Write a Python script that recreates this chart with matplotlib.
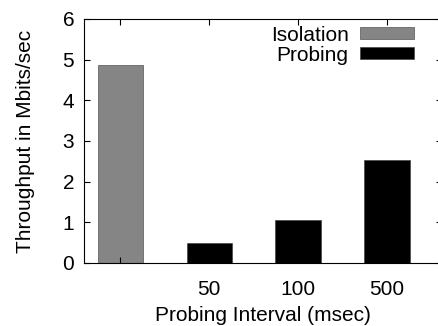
import matplotlib
matplotlib.use('Agg')
import matplotlib.pyplot as plt

plt.rcParams['font.family'] = ['Liberation Sans', 'DejaVu Sans']

labels = ['', '50', '100', '500']
isolation = [4.86]
probing = [0.48, 1.06, 2.53]

fs = 15

fig = plt.figure(figsize=(4.38, 3.26), dpi=100)
ax = fig.add_axes([84 / 438, 63 / 326, 358 / 438, 244 / 326])

ax.bar([0], isolation, width=0.51, color='#858585', edgecolor='#555555', linewidth=0.5, label='Isolation')
ax.bar([1, 2, 3], probing, width=0.51, color='black', edgecolor='#444444', linewidth=0.5, label='Probing')

ax.set_xlim(-0.41, 3.62)
ax.set_ylim(0, 6)
ax.set_xticks([0, 1, 2, 3])
ax.set_xticklabels(labels)
ax.set_yticks(range(7))
ax.tick_params(direction='in', top=True, right=True, labelsize=fs, length=4, pad=12)
ax.tick_params(axis='y', pad=7)
ax.set_xlabel('Probing Interval (msec)', fontsize=fs, labelpad=5)
ax.set_ylabel('Throughput in Mbits/sec', fontsize=fs, labelpad=20)

ax.legend(loc='upper right', bbox_to_anchor=(0.975, 1.05), frameon=False, markerfirst=False,
          fontsize=fs, handlelength=2.6, handleheight=0.5, labelspacing=0.05, handletextpad=0.55)

fig.savefig('out.png', dpi=100)
